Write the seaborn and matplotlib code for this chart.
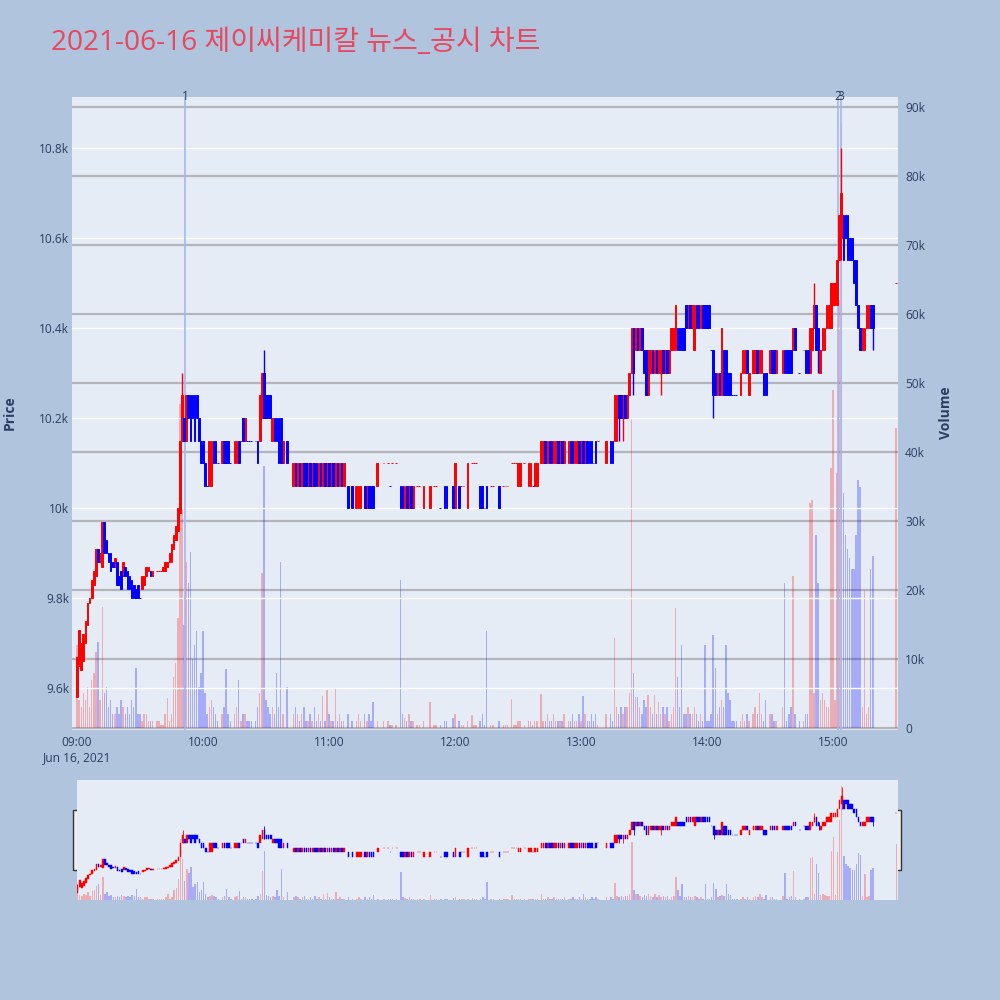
import numpy as np
import pandas as pd
import seaborn as sns
import matplotlib.pyplot as plt
from matplotlib.patches import Rectangle

# ---- values ----
title = '2021-06-16 제이씨케미칼 뉴스_공시 차트'
hour_ticks = [0, 60, 120, 180, 240, 300, 360]
hour_labels = ['09:00', '10:00', '11:00', '12:00', '13:00', '14:00', '15:00']
price_ticks = [9600, 9800, 10000, 10200, 10400, 10600, 10800]
price_labels = ['9.6k', '9.8k', '10k', '10.2k', '10.4k', '10.6k', '10.8k']
volume_ticks = [0, 10, 20, 30, 40, 50, 60, 70, 80, 90]
volume_labels = ['0', '10k', '20k', '30k', '40k', '50k', '60k', '70k', '80k', '90k']
news_minutes = [51.5, 362.5, 364.0]
news_labels = ['1', '2', '3']

# one slot per minute from 09:00 to 15:30, None = no trade in that minute
opens = [
    9580, 9650, 9640, 9660, 9700, 9740, 9790, 9800, 9830, 9850,            # 09:00
    9910, 9880, 9870, 9970, 9930, 9900, 9900, 9880, 9870, 9880,            # 09:10
    9850, 9860, 9850, 9870, 9860, 9850, 9840, 9830, 9820, 9830,            # 09:20
    9800, 9820, 9830, 9850, 9860, 9860, 9850, None, 9860, 9860,            # 09:30
    9860, 9860, 9860, 9870, 9880, 9880, 9910, 9930, 9950, 9990,            # 09:40
    10150, 10200, 10150, 10250, 10250, 10250, 10250, 10250, 10200, 10150,  # 09:50
    10150, 10100, 10050, 10050, 10050, 10150, 10150, 10100, None, 10100,   # 10:00
    10150, 10150, 10150, 10100, None, 10100, 10100, 10150, 10150, 10200,   # 10:10
    10150, 10150, 10150, 10150, None, 10150, 10150, 10150, 10200, 10300,   # 10:20
    10250, 10250, 10250, 10150, 10200, 10200, 10200, 10200, 10100, None,   # 10:30
    10150, None, None, 10050, 10100, 10050, 10100, 10050, 10100, 10100,    # 10:40
    10050, 10100, 10050, 10100, 10100, 10050, 10100, 10050, 10100, 10050,  # 10:50
    10100, 10050, 10100, 10050, 10100, 10050, 10100, 10050, None, 10050,   # 11:00
    None, 10050, None, 10000, 10000, 10000, None, 10050, 10000, 10050,     # 11:10
    10050, 10050, None, 10050, None, None, 10100, None, 10100, 10050,      # 11:20
    10100, None, 10100, None, 10050, 10050, 10000, 10050, 10000, 10050,    # 11:30
    10000, None, 10050, 10050, None, 10000, None, None, 10000, None,       # 11:40
    10050, 10050, None, 10000, None, 10050, 10050, None, None, 10050,      # 11:50
    10000, None, 10050, 10050, 10050, None, 10000, None, 10100, 10100,     # 12:00
    10100, None, 10050, 10050, 10000, 10050, None, 10050, 10050, None,     # 12:10
    None, 10050, None, 10050, 10050, 10050, None, 10100, 10100, 10100,     # 12:20
    10050, 10050, None, 10100, None, 10050, 10050, 10050, 10050, 10050,    # 12:30
    None, 10100, 10100, 10150, 10100, 10150, 10150, 10100, 10100, 10150,   # 12:40
    10100, 10150, 10100, None, 10100, 10150, 10150, 10100, 10100, 10150,   # 12:50
    10100, 10150, 10100, 10150, 10150, 10150, 10100, 10150, 10150, None,   # 13:00
    None, None, 10100, None, 10150, 10150, 10150, 10150, 10250, 10250,     # 13:10
    10200, 10250, 10200, 10250, 10300, 10400, 10350, 10400, 10350, 10400,  # 13:20
    10350, 10350, 10250, 10300, 10350, 10300, 10350, 10300, 10300, 10350,  # 13:30
    10300, 10350, 10300, 10350, 10350, 10350, 10400, 10400, 10400, 10400,  # 13:40
    10450, 10400, 10450, 10400, 10350, 10450, 10450, 10400, 10450, 10450,  # 13:50
    10450, 10450, 10350, 10350, 10300, 10250, 10300, 10250, 10350, 10350,  # 14:00
    10300, 10300, 10250, 10250, 10250, None, 10250, 10300, 10300, 10350,   # 14:10
    10250, None, 10300, 10300, 10350, 10300, 10300, 10300, 10300, None,    # 14:20
    10300, 10350, 10350, 10300, None, None, 10300, 10350, 10350, 10350,    # 14:30
    10350, 10350, 10400, None, 10300, None, 10350, 10350, 10350, 10300,    # 14:40
    10350, 10400, 10450, 10400, 10300, 10350, 10350, 10400, 10400, 10400,  # 14:50
    10450, 10450, 10450, 10550, 10600, 10650, 10650, 10650, 10600, 10600,  # 15:00
    10550, 10550, 10450, 10400, 10350, 10350, 10400, 10400, 10450, 10450,  # 15:10
    None, None, None, None, None, None, None, None, None, None,            # 15:20
    10500,                                                                 # 15:30
]
closes = [
    9670, 9730, 9700, 9720, 9750, 9790, 9800, 9840, 9860, 9910,
    9880, 9900, 9970, 9900, 9900, 9880, 9860, 9870, 9890, 9830,
    9830, 9820, 9880, 9850, 9820, 9820, 9800, 9800, 9800, 9800,
    9800, 9850, 9850, 9870, 9870, 9850, 9860, None, 9860, 9860,
    9860, 9870, 9880, 9880, 9900, 9920, 9940, 9960, 10000, 10150,
    10250, 10150, 10250, 10200, 10150, 10200, 10150, 10200, 10150, 10100,
    10100, 10050, 10050, 10150, 10150, 10100, 10100, 10100, None, 10150,
    10100, 10100, 10100, 10100, None, 10150, 10150, 10100, 10150, 10150,
    10200, 10150, 10150, 10150, None, 10150, 10100, 10250, 10300, 10200,
    10200, 10200, 10200, 10200, 10150, 10150, 10100, 10100, 10150, None,
    10100, None, None, 10100, 10050, 10100, 10050, 10100, 10050, 10050,
    10100, 10050, 10100, 10050, 10050, 10100, 10050, 10100, 10050, 10100,
    10050, 10100, 10050, 10100, 10050, 10100, 10050, 10100, None, 10000,
    None, 10000, None, 10050, 10050, 10050, None, 10000, 10050, 10000,
    10000, 10000, None, 10100, None, None, 10100, None, 10100, 10050,
    10100, None, 10100, None, 10000, 10000, 10050, 10000, 10050, 10000,
    10050, None, 10050, 10050, None, 10050, None, None, 10050, None,
    10050, 10050, None, 10000, None, 10000, 10000, None, None, 10000,
    10100, None, 10000, 10050, 10050, None, 10100, None, 10100, 10100,
    10100, None, 10000, 10000, 10000, 10000, None, 10050, 10050, None,
    None, 10000, None, 10050, 10050, 10050, None, 10100, 10100, 10100,
    10100, 10100, None, 10100, None, 10100, 10100, 10050, 10100, 10100,
    None, 10150, 10150, 10100, 10150, 10100, 10100, 10150, 10150, 10100,
    10150, 10100, 10150, None, 10150, 10100, 10100, 10150, 10150, 10100,
    10150, 10100, 10150, 10100, 10100, 10100, 10100, 10100, 10150, None,
    None, None, 10150, None, 10100, 10100, 10250, 10250, 10200, 10200,
    10250, 10200, 10250, 10300, 10400, 10300, 10400, 10350, 10400, 10350,
    10300, 10250, 10350, 10350, 10300, 10350, 10300, 10350, 10350, 10300,
    10350, 10300, 10350, 10400, 10400, 10450, 10350, 10350, 10350, 10350,
    10400, 10450, 10400, 10450, 10450, 10400, 10400, 10450, 10400, 10400,
    10400, 10400, 10350, 10250, 10250, 10300, 10250, 10400, 10250, 10250,
    10250, 10250, 10250, 10250, 10250, None, 10300, 10350, 10350, 10300,
    10300, None, 10350, 10350, 10300, 10350, 10350, 10250, 10250, None,
    10350, 10300, 10300, 10350, None, None, 10350, 10300, 10300, 10300,
    10300, 10400, 10350, None, 10300, None, 10350, 10300, 10300, 10400,
    10400, 10450, 10350, 10350, 10350, 10400, 10400, 10450, 10450, 10500,
    10500, 10500, 10550, 10650, 10700, 10550, 10600, 10550, 10550, 10550,
    10500, 10450, 10400, 10350, 10400, 10400, 10450, 10450, 10400, 10400,
    None, None, None, None, None, None, None, None, None, None,
    10500,
]
# volume in thousands of shares
volumes = [
    12, 4, 3, 5, 4, 6, 3, 7, 8, 11,
    12.5, 4, 17.5, 5, 6, 3, 4, 2, 2, 3,
    2, 4, 3, 2, 3, 2, 4, 3, 8.7, 2,
    2, 1, 2, 2, 1, 1, 1, None, 1, 1,
    0.5, 0.5, 2, 4.3, 1, 2, 7.4, 9.4, 16, 47,
    31.6, 15, 24, 21, 25.5, 10, 12, 14, 6, 8,
    14, 5, 2, 3, 4, 3, 2, 1, None, 2,
    3, 8.5, 2, 1, None, 2, 3, 7, 1, 2,
    2, 1, 1, 1, None, 1, 3, 5, 22.5, 38,
    4, 3, 2, 3, 2, 8, 3, 24, 2, None,
    6, None, None, 2, 3, 2, 1, 2, 3, 1,
    1, 2, 1, 3, 1, 2, 1, 4.6, 1, 5.5,
    2, 1, 1, 5.8, 1, 2, 1, 1, None, 2,
    None, 1, None, 1, 2, 1, None, 2, 1, 2,
    1, 3.8, None, 1, None, None, 1, None, 1, 0.5,
    0.5, None, 0.5, None, 21.5, 2, 1.5, 1, 2, 1,
    1, None, 0.5, 0.5, None, 1, None, None, 3.8, None,
    0.5, 0.5, None, 0.5, None, 1, 1, None, None, 1.5,
    2, None, 1, 0.5, 0.5, None, 1, None, 1.9, 0.5,
    0.5, None, 1, 2, 0.5, 14, None, 0.5, 0.5, None,
    None, 1, None, 0.5, 0.5, 0.5, None, 4.2, 0.5, 0.5,
    1, 1, None, 0.5, None, 1, 1, 0.5, 1, 1,
    None, 4.9, 1, 1, 2, 1, 1, 2, 1, 1,
    1, 1, 2, None, 1, 1, 2, 1, 1, 2,
    1, 4.6, 2, 1, 1, 2, 1, 2, 0.5, None,
    None, None, 2, None, 2, 1, 13, 3, 2, 3,
    2, 3, 3, 5, 45, 8, 4.5, 4.5, 3, 2,
    4, 3, 4.8, 3, 2, 4.8, 2, 3.8, 2, 3,
    2, 3, 1, 2, 3, 17.4, 7.4, 3, 12, 2,
    2, 3, 2, 2, 3, 2, 1, 2, 1, 12,
    1, 1, 2, 13.5, 8.7, 2, 3, 4, 3, 12,
    5, 4, 1, 1, 1, None, 1, 2, 1, 2,
    1, None, 2, 3, 2, 5, 2, 1, 4, None,
    2, 2, 1, 1, None, None, 3, 21, 1, 2,
    3, 22, 2, None, 1, None, 1, 2, 2, 32.6,
    33, 5, 28, 21, 4, 5, 4, 3, 3, 37.7,
    49, 4, 37, 62, 87.7, 34, 28, 26, 24.6, 23,
    23, 28, 36, 35, 3, 20, 2, 3, 23, 25,
    None, None, None, None, None, None, None, None, None, None,
    43.5,
]
wick_minutes = [50, 89, 258, 260, 265, 278, 303, 351, 353, 364, 379]
wick_highs = [10300, 10350, 10250, 10250, 10400, 10350, 10350, 10500, 10400, 10800, 10450]
wick_lows = [10150, 10200, 10150, 10150, 10250, 10250, 10200, 10400, 10300, 10550, 10350]

UP = '#ff0000'
DOWN = '#0000ff'
BG = '#b0c4de'
PLOT_BG = '#e5ecf6'
FONT = '#2a3f5f'
GRAY = '#b3b5bb'

sns.set_theme(style='white')
plt.rcParams['font.family'] = ['Open Sans', 'Noto Sans CJK KR', 'DejaVu Sans']

df = pd.DataFrame({'minute': range(len(opens)), 'open': opens,
                   'close': closes, 'volume': volumes}).dropna()
df['minute'] = df['minute'].astype(int)

# candle direction, a flat minute takes the direction of its move from the previous close
direction = []
prev_close, prev_dir = None, 'up'
for o, c in zip(df['open'], df['close']):
    if c > o:
        d = 'up'
    elif c < o:
        d = 'down'
    elif prev_close is not None and c > prev_close:
        d = 'up'
    elif prev_close is not None and c < prev_close:
        d = 'down'
    else:
        d = prev_dir
    direction.append(d)
    prev_close, prev_dir = c, d
df['direction'] = direction

wicks = pd.DataFrame({'minute': wick_minutes, 'high': wick_highs, 'low': wick_lows})
wicks = wicks.merge(df[['minute', 'direction']], on='minute')
colors = {'up': UP, 'down': DOWN}


def draw_candles(ax, width, lw, wick_lw):
    for d, color in colors.items():
        sub = df[df['direction'] == d]
        low = np.minimum(sub['open'], sub['close'])
        ax.bar(sub['minute'], (sub['close'] - sub['open']).abs(), bottom=low,
               width=width, color=color, edgecolor=color, linewidth=lw, zorder=3)
        w = wicks[wicks['direction'] == d]
        ax.vlines(w['minute'], w['low'], w['high'], colors=color, lw=wick_lw, zorder=3)


def draw_volume(ax, alpha):
    sns.barplot(data=df, x='minute', y='volume', hue='direction', palette=colors,
                native_scale=True, width=0.7, saturation=1, alpha=alpha,
                errorbar=None, legend=False, linewidth=0, ax=ax)


fig = plt.figure(figsize=(10, 10), dpi=100, facecolor=BG)

# ---- main chart ----
ax = fig.add_axes([0.072, 0.270, 0.826, 0.633])
ax2 = ax.twinx()
ax.set_zorder(2)
ax2.set_zorder(1)
ax.patch.set_visible(False)
ax2.patch.set_visible(True)
ax2.set_facecolor(PLOT_BG)

draw_volume(ax2, 0.27)
ax2.axhline(0, color='white', lw=1.5, zorder=0.5)
ax2.set_ylim(-0.29, 91.45)
ax2.set_yticks(volume_ticks, volume_labels)
ax2.yaxis.grid(True, color=GRAY, lw=1.6)
ax2.xaxis.grid(False)
ax2.set_axisbelow(True)
ax2.set_ylabel('')
ax2.set_xlabel('')
ax2.tick_params(axis='y', length=0, pad=5, labelsize=8.6, labelcolor=FONT,
                right=True, labelright=True, left=False, labelleft=False)

draw_candles(ax, 0.8, 0.7, 1.0)
for m, lbl in zip(news_minutes, news_labels):
    ax.axvline(m, color='#a4b5f3', lw=1.4, alpha=0.85, zorder=2)
    ax.text(m, 1.0, lbl, transform=ax.get_xaxis_transform(), ha='center', va='center',
            fontsize=8.6, color=FONT)

ax.set_xlim(-2.4, 391)
ax.set_ylim(9506.7, 10913.3)
ax.set_yticks(price_ticks, price_labels)
ax.set_xticks(hour_ticks, hour_labels)
ax.yaxis.grid(True, color='white', lw=1)
ax.xaxis.grid(False)
ax.set_axisbelow(True)
ax.tick_params(axis='y', length=0, pad=2, labelsize=8.6, labelcolor=FONT)
ax.tick_params(axis='x', length=0, pad=4, labelsize=8.6, labelcolor=FONT)
ax.set_xlabel('')
ax.set_ylabel('')
for a in (ax, ax2):
    for s in a.spines.values():
        s.set_visible(False)

fig.text(0.077, 0.242, 'Jun 16, 2021', ha='center', va='center', fontsize=8.6, color=FONT)
fig.text(0.010, 0.587, 'Price', rotation=90, ha='center', va='center',
         fontsize=10, fontweight='bold', color=FONT)
fig.text(0.946, 0.587, 'Volume', rotation=90, ha='center', va='center',
         fontsize=10, fontweight='bold', color=FONT)
fig.text(0.051, 0.950, title, ha='left', va='baseline', fontsize=20.2, color='#e8485f')

# ---- range slider ----
ax4 = fig.add_axes([0.077, 0.100, 0.821, 0.120])
ax3 = ax4.twinx()
ax3.set_zorder(2)
ax4.set_zorder(1)
ax3.patch.set_visible(False)
ax4.patch.set_visible(True)
ax4.set_facecolor(PLOT_BG)
draw_volume(ax4, 0.27)
ax4.set_ylim(0, 92.6)
draw_candles(ax3, 0.8, 0.3, 0.6)
ax3.set_xlim(-0.3, 390.8)
ax3.set_ylim(9500, 10880)
for a in (ax3, ax4):
    a.set_xticks([])
    a.set_yticks([])
    a.set_xlabel('')
    a.set_ylabel('')
    a.grid(False)
    for s in a.spines.values():
        s.set_visible(False)

for hx in (0.073, 0.896):
    fig.add_artist(Rectangle((hx, 0.130), 0.005, 0.060, transform=fig.transFigure,
                             facecolor='#eeeeee', edgecolor='#333333', lw=1))

fig.savefig('out.png', dpi=100, facecolor=BG)
